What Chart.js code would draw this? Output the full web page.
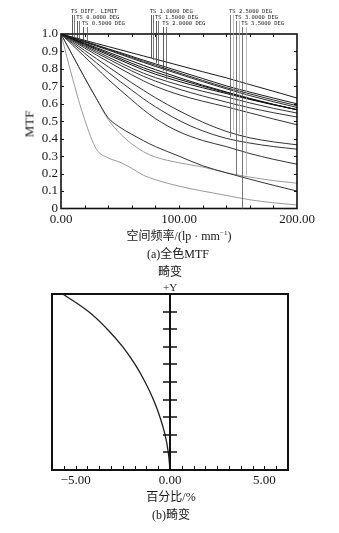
<!DOCTYPE html>
<html><head><meta charset="utf-8">
<script src="https://cdn.jsdelivr.net/npm/chart.js@4.4.0/dist/chart.umd.min.js"></script>
<style>
html,body{margin:0;padding:0;background:#fff;}
body{width:339px;height:533px;position:relative;overflow:hidden;}
.wrap{position:absolute;left:0;width:339px;}
.t{position:absolute;white-space:nowrap;color:#161616;font-size:12px;transform:translate(-50%,-50%);
   font-family:"Liberation Serif","DejaVu Serif","Noto Sans CJK SC",serif;line-height:1;}
</style></head><body>
<div class="wrap" style="top:0;height:250px"><canvas id="mtf" width="339" height="250"></canvas></div>
<div class="wrap" style="top:262px;height:271px"><canvas id="dist" width="339" height="271"></canvas></div>

<div class="t" style="left:29px;top:124px;transform:translate(-50%,-50%) rotate(-90deg);font-size:13px">MTF</div>
<div class="t" style="left:179px;top:236px;font-size:12px">空间频率/(lp · mm<sup style="font-size:7px">−1</sup>)</div>
<div class="t" style="left:178px;top:254px;font-size:12px">(a)全色MTF</div>
<div class="t" style="left:170px;top:272px;font-size:12px">畸变</div>
<div class="t" style="left:170px;top:287px;font-size:11px">+Y</div>
<div class="t" style="left:171px;top:497px;font-size:12px">百分比/%</div>
<div class="t" style="left:171px;top:515px;font-size:12px">(b)畸变</div>

<script>
// ---- MTF data: spatial frequency (lp/mm) and modulation per field ----
const freqs = [0, 10, 20, 30, 40, 50, 60, 70, 80, 100, 120, 140, 160, 180, 200];
const mtfDiff = [1, .982, .964, .946, .928, .910, .892, .874, .856, .820, .784, .749, .710, .672, .633];
const mtf00   = [1, .979, .958, .937, .915, .894, .872, .850, .829, .787, .745, .703, .667, .633, .600];
const mtf05T  = [1, .978, .956, .934, .912, .889, .866, .843, .821, .777, .734, .693, .657, .622, .589];
const mtf05S  = [1, .977, .954, .931, .908, .884, .860, .837, .814, .770, .727, .686, .647, .612, .579];
const mtf10T  = [1, .974, .948, .922, .896, .870, .845, .820, .796, .750, .707, .668, .631, .597, .566];
const mtf10S  = [1, .972, .944, .916, .888, .860, .832, .806, .782, .740, .701, .665, .628, .596, .566];
const mtf15T  = [1, .970, .940, .910, .880, .851, .822, .794, .770, .728, .692, .659, .625, .594, .566];
const mtf15S  = [1, .967, .934, .901, .868, .836, .804, .775, .750, .708, .672, .640, .605, .574, .547];
const mtf20T  = [1, .964, .928, .892, .857, .822, .788, .757, .730, .684, .645, .610, .577, .549, .524];
const mtf20S  = [1, .960, .920, .880, .841, .803, .766, .731, .700, .652, .615, .583, .548, .513, .480];
const mtf25T  = [1, .953, .906, .859, .812, .766, .720, .677, .635, .560, .495, .442, .405, .382, .365];
const mtf25S  = [1, .945, .890, .835, .780, .728, .678, .628, .583, .505, .445, .402, .375, .355, .340];
const mtf30T  = [1, .935, .870, .805, .740, .680, .622, .565, .515, .440, .390, .355, .315, .282, .254];
const mtf30S  = [1, .875, .750, .630, .520, .465, .425, .388, .355, .300, .245, .205, .168, .133, .100];
const mtf35T  = [1, .875, .750, .630, .510, .430, .370, .325, .295, .262, .238, .205, .180, .160, .145];
const mtf35S  = [1, .740, .510, .340, .290, .265, .230, .190, .165, .128, .100, .075, .050, .033, .020];

const mtfSeries = [
  {v: mtfDiff, c: '#1a1a1a'}, {v: mtf00, c: '#1a1a1a'}, {v: mtf05T, c: '#2a2a2a'}, {v: mtf05S, c: '#2a2a2a'},
  {v: mtf10T, c: '#111'}, {v: mtf10S, c: '#111'}, {v: mtf15T, c: '#111'}, {v: mtf15S, c: '#333'},
  {v: mtf20T, c: '#333'}, {v: mtf20S, c: '#333'}, {v: mtf25T, c: '#333'}, {v: mtf25S, c: '#333'},
  {v: mtf30T, c: '#333'}, {v: mtf30S, c: '#333'}, {v: mtf35T, c: '#9a9a9a'}, {v: mtf35S, c: '#9a9a9a'}
];

// field labels above the plot, each with its tangential / sagittal leader frequency and end value
const fieldLabels = ['TS DIFF. LIMIT', 'TS 0.0000 DEG', 'TS 0.5000 DEG', 'TS 1.0000 DEG', 'TS 1.5000 DEG',
                     'TS 2.0000 DEG', 'TS 2.5000 DEG', 'TS 3.0000 DEG', 'TS 3.5000 DEG'];
const leaderFreqT = [9.3, 13.8, 18.4, 76.0, 80.5, 86.7, 143.2, 148.3, 153.5];
const leaderFreqS = [11.0, 15.5, 22.3, 77.7, 82.2, 88.7, 146.0, 150.8, 156.8];
const leaderEndT  = [.983, .970, .960, .862, .834, .790, .410, .190, .000];
const leaderEndS  = [.978, .966, .955, .850, .825, .740, .450, .430, .190];

const mtfXTicks = [0, 100, 200];
const mtfXMinor = [20, 40, 60, 80, 100, 120, 140, 160, 180];
const mtfYTicks = [0, .1, .2, .3, .4, .5, .6, .7, .8, .9, 1.0];

// ---- distortion data: relative field height (deg) and distortion (%) ----
const fieldDeg   = [0, .35, .70, 1.05, 1.40, 1.75, 2.10, 2.45, 2.80, 3.15, 3.50];
const distortion = [0, -.09, -.26, -.53, -.88, -1.32, -1.85, -2.50, -3.32, -4.32, -5.68];
const distXTicks = [-5, 0, 5];
const distXMinor = [-5.625, -5, -4.375, -3.75, -3.125, -2.5, -1.875, -1.25, -.625, 0,
                    .625, 1.25, 1.875, 2.5, 3.125, 3.75, 4.375, 5, 5.625];
const distFieldTicks = [.35, .70, 1.05, 1.40, 1.75, 2.10, 2.45, 2.80, 3.15];

const serif = '"Liberation Serif", "DejaVu Serif", serif';

// frame, inward ticks and annotations
const framePlugin = {
  id: 'frame',
  afterDatasetsDraw(chart, args, o) {
    const {ctx, chartArea: a, scales: {x, y}} = chart;
    ctx.save();
    ctx.strokeStyle = '#111';
    ctx.lineWidth = o.lineWidth;
    ctx.strokeRect(a.left, a.top, a.right - a.left, a.bottom - a.top);
    ctx.lineWidth = 1;
    ctx.beginPath();
    (o.xMinor || []).forEach(v => {
      const px = Math.round(x.getPixelForValue(v)) + .5;
      ctx.moveTo(px, a.bottom); ctx.lineTo(px, a.bottom - o.tick);
      if (o.topTicks) { ctx.moveTo(px, a.top); ctx.lineTo(px, a.top + o.tick); }
    });
    (o.yMinor || []).forEach(v => {
      const py = Math.round(y.getPixelForValue(v)) + .5;
      ctx.moveTo(a.left, py); ctx.lineTo(a.left + o.tick, py);
      ctx.moveTo(a.right, py); ctx.lineTo(a.right - o.tick, py);
    });
    ctx.stroke();
    if (o.centerAxis) {
      const cx = x.getPixelForValue(0);
      ctx.lineWidth = 2;
      ctx.beginPath(); ctx.moveTo(cx, a.top); ctx.lineTo(cx, a.bottom); ctx.stroke();
      ctx.lineWidth = 1.6;
      ctx.beginPath();
      distFieldTicks.forEach(v => {
        const py = Math.round(y.getPixelForValue(v));
        ctx.moveTo(cx - 7, py); ctx.lineTo(cx + 7, py);
      });
      ctx.stroke();
    }
    if (o.labels) {
      ctx.font = '5.5px "DejaVu Sans Mono", monospace';
      ctx.textBaseline = 'middle';
      ctx.fillStyle = '#1a1a1a';
      fieldLabels.forEach((txt, i) => {
        const row = i % 3;
        const ty = 12 + row * 6;
        const xt = x.getPixelForValue(leaderFreqT[i]);
        const xs = x.getPixelForValue(leaderFreqS[i]);
        ctx.fillText(txt, xt - 1, ty);
        ctx.lineWidth = 0.8;
        ctx.strokeStyle = i >= 6 ? '#555' : '#333';
        ctx.beginPath();
        ctx.moveTo(Math.round(xt) + .5, ty + 3); ctx.lineTo(Math.round(xt) + .5, y.getPixelForValue(leaderEndT[i]));
        ctx.stroke();
        ctx.strokeStyle = i >= 6 ? '#aaa' : '#555';
        ctx.beginPath();
        ctx.moveTo(Math.round(xs) + .5, ty + 3); ctx.lineTo(Math.round(xs) + .5, y.getPixelForValue(leaderEndS[i]));
        ctx.stroke();
      });
    }
    ctx.restore();
  }
};

new Chart(document.getElementById('mtf'), {
  type: 'line',
  data: {
    datasets: mtfSeries.map(s => ({
      data: freqs.map((f, i) => ({x: f, y: s.v[i]})),
      borderColor: s.c, borderWidth: 1, pointRadius: 0,
      cubicInterpolationMode: 'monotone', fill: false
    }))
  },
  options: {
    responsive: false, animation: false,
    layout: {padding: {left: 0, right: 42, top: 34, bottom: 0}},
    plugins: {legend: {display: false}, tooltip: {enabled: false},
      frame: {lineWidth: 1.6, tick: 3, topTicks: true, xMinor: mtfXMinor, yMinor: mtfYTicks.slice(1, 10), labels: true}},
    scales: {
      x: {type: 'linear', min: 0, max: 200,
        afterBuildTicks: s => { s.ticks = mtfXTicks.map(v => ({value: v})); },
        afterFit: s => { s.height = 41.5; },
        grid: {display: false, drawTicks: false}, border: {display: false},
        ticks: {padding: 3, autoSkip: false, color: '#161616', font: {family: serif, size: 13}, maxRotation: 0,
          callback: v => v.toFixed(2)}},
      y: {min: 0, max: 1,
        afterBuildTicks: s => { s.ticks = mtfYTicks.map(v => ({value: v})); },
        afterFit: s => { s.width = 61; },
        grid: {display: false, drawTicks: false}, border: {display: false},
        ticks: {padding: 3, autoSkip: false, color: '#161616', font: {family: serif, size: 13},
          callback: v => v === 0 ? '0' : v.toFixed(1)}}
    }
  },
  plugins: [framePlugin]
});

new Chart(document.getElementById('dist'), {
  type: 'scatter',
  data: {
    datasets: [{
      data: fieldDeg.map((h, i) => ({x: distortion[i], y: h})),
      showLine: true, borderColor: '#1e1e1e', borderWidth: 1.3, pointRadius: 0, tension: 0.4
    }]
  },
  options: {
    responsive: false, animation: false,
    layout: {padding: {left: 52, right: 51, top: 32, bottom: 33}},
    plugins: {legend: {display: false}, tooltip: {enabled: false},
      frame: {lineWidth: 2, tick: 4, xMinor: distXMinor, centerAxis: true}},
    scales: {
      x: {type: 'linear', min: -6.25, max: 6.25,
        afterBuildTicks: s => { s.ticks = distXTicks.map(v => ({value: v})); },
        afterFit: s => { s.height = 30; },
        grid: {display: false, drawTicks: false}, border: {display: false},
        ticks: {padding: 3, autoSkip: false, color: '#161616', font: {family: serif, size: 13}, maxRotation: 0,
          callback: v => (v < 0 ? '−' + (-v).toFixed(2) : v.toFixed(2))}},
      y: {display: false, min: 0, max: 3.5}
    }
  },
  plugins: [framePlugin]
});
</script>
</body></html>
